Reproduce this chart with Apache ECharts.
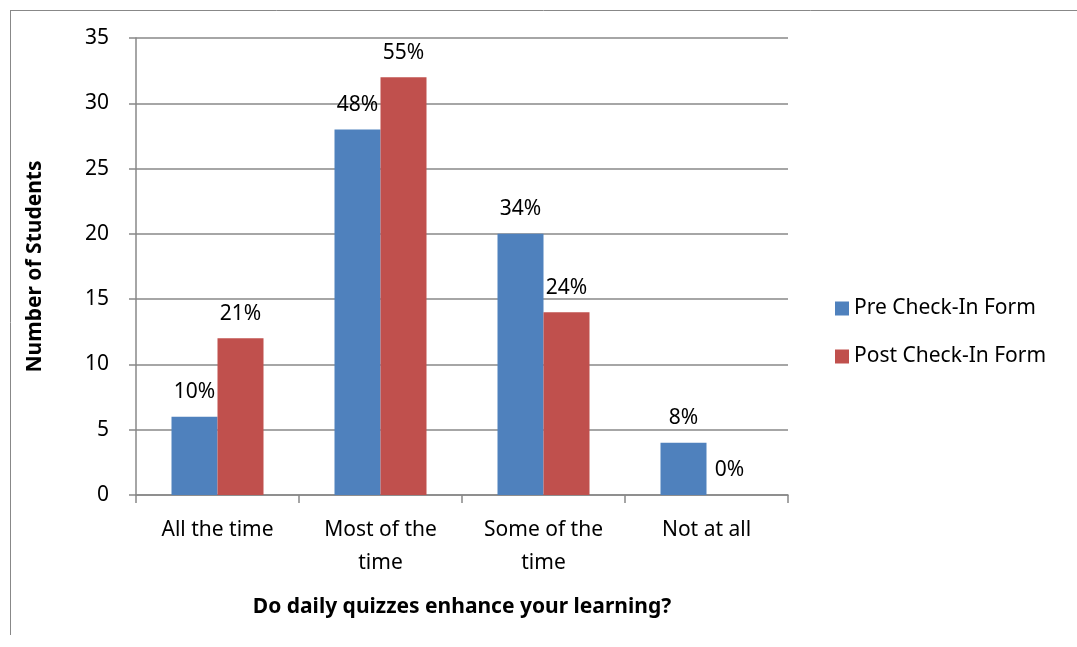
<!DOCTYPE html>
<html>
<head>
<meta charset="utf-8">
<script src="https://cdn.jsdelivr.net/npm/echarts@6/dist/echarts.min.js"></script>
<style>
  html, body { margin: 0; padding: 0; background: #fff; }
  #chart { width: 1077px; height: 647px; }
</style>
</head>
<body>
<div id="chart"></div>
<script>
const categories = ['All the time', 'Most of the\ntime', 'Some of the\ntime', 'Not at all'];
const preValues = [6, 28, 20, 4];
const postValues = [12, 32, 14, 0];
const prePercent = ['10%', '48%', '34%', '8%'];
const postPercent = ['21%', '55%', '24%', '0%'];
const yTicks = [0, 5, 10, 15, 20, 25, 30, 35];

const chart = echarts.init(document.getElementById('chart'));
const font = 'Noto Sans';

chart.setOption({
    animation: false,
    textStyle: { fontFamily: font },
    graphic: [
        // outer chart border (left and top only visible)
        { type: 'line', shape: { x1: 10.5, y1: 10, x2: 10.5, y2: 635 }, style: { stroke: '#888', lineWidth: 1 } },
        { type: 'line', shape: { x1: 10, y1: 10.5, x2: 1077, y2: 10.5 }, style: { stroke: '#888', lineWidth: 1 } }
    ],
    legend: {
        orient: 'vertical',
        left: 830,
        top: 293,
        itemWidth: 14,
        itemHeight: 14,
        itemGap: 27,
        icon: 'rect',
        textStyle: { fontSize: 21, color: '#000', fontFamily: font },
        data: ['Pre Check-In Form', 'Post Check-In Form']
    },
    grid: {
        left: 136,
        right: 289,
        top: 38,
        bottom: 152
    },
    xAxis: {
        type: 'category',
        data: categories,
        name: 'Do daily quizzes enhance your learning?',
        nameLocation: 'middle',
        nameGap: 102,
        nameTextStyle: { fontSize: 21, fontWeight: 'bold', color: '#000' },
        axisLine: { lineStyle: { color: '#888', width: 1.5 } },
        axisTick: { show: true, length: 8, alignWithLabel: false, lineStyle: { color: '#888', width: 1.5 } },
        axisLabel: { fontSize: 21, color: '#000', margin: 19, lineHeight: 33, interval: 0 }
    },
    yAxis: {
        type: 'value',
        min: 0,
        max: 35,
        interval: 5,
        name: 'Number of Students',
        nameLocation: 'middle',
        nameGap: 90,
        nameTextStyle: { fontSize: 21, fontWeight: 'bold', color: '#000' },
        axisLine: { show: true, lineStyle: { color: '#888', width: 1.5 } },
        axisTick: { show: true, length: 7, lineStyle: { color: '#888', width: 1.5 } },
        splitLine: { lineStyle: { color: '#888', width: 1.5 } },
        axisLabel: {
            fontSize: 21,
            color: '#000',
            margin: 27,
            formatter: v => yTicks.includes(v) ? String(v) : ''
        }
    },
    series: [
        {
            name: 'Pre Check-In Form',
            type: 'bar',
            data: preValues,
            barWidth: 46,
            barGap: '0%',
            itemStyle: { color: '#4F81BD' },
            label: {
                show: true,
                position: 'top',
                distance: 14,
                fontSize: 21,
                color: '#000',
                formatter: p => prePercent[p.dataIndex]
            }
        },
        {
            name: 'Post Check-In Form',
            type: 'bar',
            data: postValues,
            barWidth: 46,
            barGap: '0%',
            itemStyle: { color: '#C0504D' },
            label: {
                show: true,
                position: 'top',
                distance: 14,
                fontSize: 21,
                color: '#000',
                formatter: p => postPercent[p.dataIndex]
            }
        }
    ]
});
</script>
</body>
</html>
